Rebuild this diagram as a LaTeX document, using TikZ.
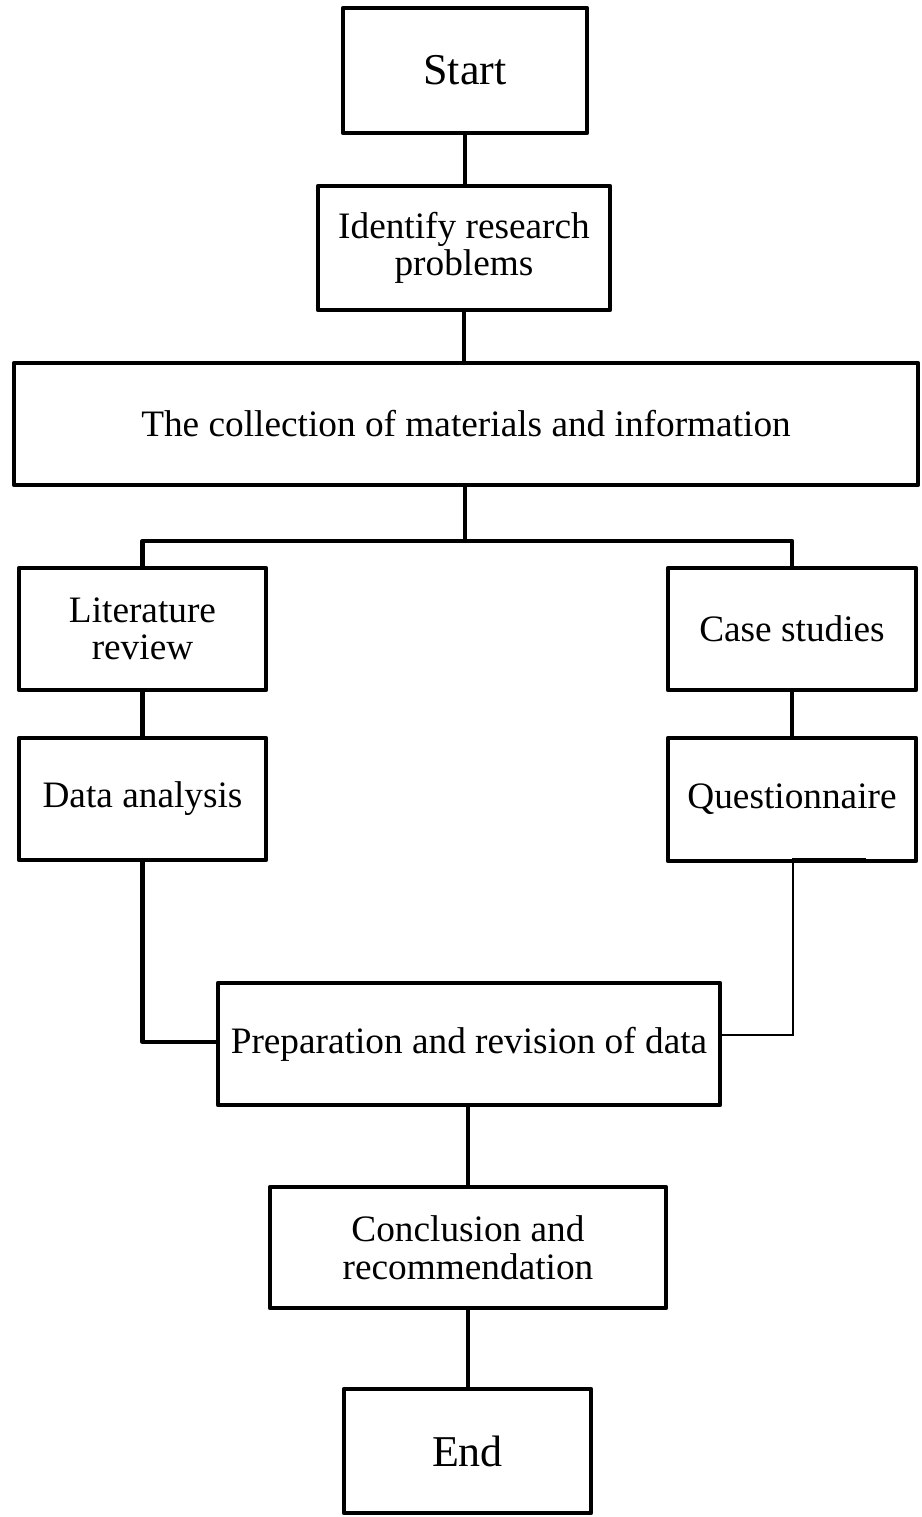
\documentclass[tikz,border=0pt]{standalone}
\usepackage{fontspec}
\setmainfont{Liberation Serif}
\begin{document}
\begin{tikzpicture}[x=1pt,y=-1pt,
  box/.style={draw, line width=4.5pt, line join=round, inner sep=0pt, align=center,
    font=\fontsize{37.3}{37.5}\selectfont},
  bigbox/.style={box, font=\fontsize{44}{45}\selectfont},
  link/.style={draw, line width=4.3pt, line join=round},
  thinlink/.style={draw, line width=1.4pt}]
\useasboundingbox (0,0) rectangle (921,1517);

% process boxes
\node[bigbox, minimum width=244pt, minimum height=125pt] (start) at (465,70.5) {Start};
\node[box, minimum width=292pt, minimum height=124pt] (ident) at (464,248) {Identify research\\problems};
\node[box, minimum width=904pt, minimum height=122pt] (coll) at (466,424) {The collection of materials and information};
\node[box, minimum width=247pt, minimum height=122pt] (lit) at (142.5,629) {Literature\\review};
\node[box, minimum width=248pt, minimum height=122pt] (case) at (792,629) {Case studies};
\node[box, minimum width=247pt, minimum height=122pt] (data) at (142.5,799) {Data analysis};
\node[box, minimum width=248pt, minimum height=123pt] (quest) at (792,799.5) {Questionnaire};
\node[box, minimum width=502pt, minimum height=122pt] (prep) at (469,1044) {Preparation and revision of data};
\node[box, minimum width=396pt, minimum height=121pt] (concl) at (468,1247.5) {Conclusion and\\recommendation};
\node[bigbox, minimum width=247pt, minimum height=124pt] (end) at (467.5,1451) {End};

% branching point below the collection step
\coordinate (split) at (465,541);

% connectors
\path[link] (start.south) -- (start.south |- ident.north);
\path[link] (ident.south) -- (ident.south |- coll.north);
\path[link] (split |- coll.south) -- (split);
\path[link] (lit.north) |- (split) -| (case.north);
\path[link] (lit.south) -- (data.north);
\path[link] (case.south) -- (quest.north);
\path[link] (data.south) |- ([yshift=2pt]prep.west);
\path[link] (concl.north |- prep.south) -- (concl.north);
\path[link] (concl.south) -- (concl.south |- end.north);

% thin link from the questionnaire into the preparation step
\coordinate (qa) at (866,859);
\coordinate (qb) at (793,859);
\path[thinlink] (qa) -- (qb) |- ([yshift=9pt]prep.east);
\path[thinlink] ([xshift=-3.5pt,yshift=16pt]prep.east) -- ([xshift=-3.5pt,yshift=2pt]prep.east);
\end{tikzpicture}
\end{document}
